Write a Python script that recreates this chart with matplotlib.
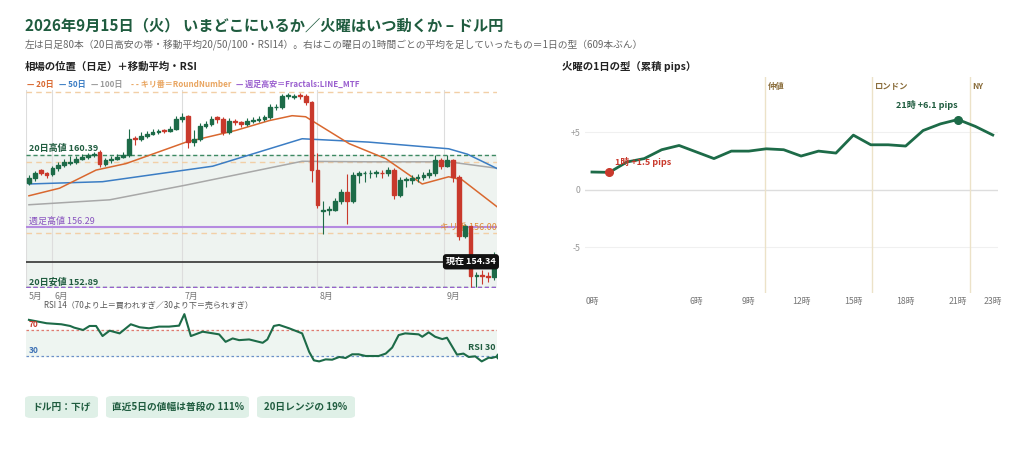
import matplotlib
matplotlib.use("Agg")
import matplotlib.pyplot as plt
from matplotlib.patches import FancyBboxPatch, Rectangle

plt.rcParams['font.family'] = ['Noto Sans CJK JP', 'DejaVu Sans']

closes = [159.08,159.36,159.40,159.27,159.64,159.83,160.02,160.02,160.20,160.30,
          160.39,160.48,159.92,160.11,160.20,160.30,160.39,161.33,161.33,161.51,
          161.61,161.74,161.76,161.76,161.89,162.45,162.54,161.14,161.33,162.08,
          162.17,162.45,162.45,161.70,162.36,162.26,162.17,162.36,162.39,162.45,
          162.54,163.11,163.11,163.76,163.76,163.76,163.76,163.39,159.55,157.58,
          157.30,157.30,157.77,158.33,157.77,159.27,159.36,159.36,159.40,159.40,
          159.36,159.55,158.14,158.99,158.99,159.08,159.17,159.27,159.36,160.11,
          159.77,160.11,159.17,155.80,156.36,153.55,153.55,153.55,153.46,154.34]
opens = [158.80,159.08,159.55,159.36,159.30,159.64,159.83,159.95,160.02,160.20,
         160.30,160.39,160.60,159.92,160.11,160.20,160.30,160.40,161.40,161.33,
         161.51,161.61,161.70,161.80,161.76,161.89,162.45,162.60,161.14,161.33,
         162.08,162.17,162.55,162.45,161.70,162.36,162.26,162.17,162.36,162.39,
         162.45,162.54,163.11,163.11,163.76,163.70,163.80,163.76,163.39,159.55,
         157.20,157.30,157.30,157.77,158.33,157.77,159.27,159.36,159.36,159.40,
         159.40,159.36,159.55,158.14,158.99,158.99,159.08,159.17,159.27,159.36,
         160.11,159.77,160.11,159.17,155.80,156.36,153.55,153.60,153.55,153.46]
highs = [159.25,159.50,159.60,159.45,159.80,160.00,160.20,160.35,160.35,160.45,
         160.50,160.60,160.70,160.25,160.35,160.45,160.55,161.90,161.50,161.70,
         161.75,161.90,161.90,161.90,162.05,162.60,162.80,162.70,161.80,162.25,
         162.35,162.60,162.65,162.55,162.50,162.45,162.35,162.50,162.55,162.60,
         162.70,163.30,163.30,163.90,163.95,163.90,163.95,163.85,163.45,160.50,
         157.80,157.50,157.95,158.50,159.30,159.45,159.50,159.50,159.55,159.55,
         159.55,159.70,159.65,159.15,159.15,159.25,159.30,159.45,159.60,160.39,
         160.25,160.39,160.20,159.25,156.50,156.40,153.75,153.90,153.75,154.90]
lows = [158.70,158.95,159.25,159.10,159.20,159.50,159.70,159.85,159.90,160.10,
        160.20,160.30,159.70,159.80,159.95,160.10,160.25,160.30,161.00,161.20,
        161.40,161.55,161.60,161.65,161.70,161.80,162.30,160.80,160.90,161.20,
        161.95,162.05,162.20,161.55,161.60,162.10,162.00,162.05,162.20,162.30,
        162.35,162.45,162.95,163.00,163.60,163.60,163.60,163.25,158.90,157.40,
        155.90,157.00,157.20,157.60,156.50,157.70,158.80,158.90,159.10,159.15,
        159.10,159.20,157.90,158.00,158.60,158.75,158.90,159.00,159.10,159.20,
        159.60,159.70,158.90,155.60,155.70,152.89,152.89,153.10,153.20,153.30]

ma20_x = [0,5.2,11.4,16.5,26.7,35.1,40.8,44.7,47.0,54.4,60.6,66.8,71.3,73.6,79.8]
ma20_y = [158.09,158.52,159.55,159.92,161.14,161.80,162.36,162.64,162.58,161.05,160.20,158.76,159.17,158.99,157.39]
ma50_x = [0,12.5,31.2,46.4,57.7,71.3,74.5,79.8]
ma50_y = [158.76,158.89,159.77,161.33,161.14,160.76,160.45,159.59]
ma100_x = [0,13.7,26.7,46.4,57.7,71.3,79.8]
ma100_y = [157.58,157.86,158.70,160.05,160.02,160.02,159.64]

month_idx = [-0.5, 3.9, 26, 49, 70.5]
month_lbl = ['5月', '6月', '7月', '8月', '9月']

rsi_x = [0,3,5.5,7,7.7,9.2,10.3,11.4,12.5,13.7,15.4,17.3,18.8,20.4,22.1,23.8,25.5,26.4,27.5,29.5,
         32.3,33.4,34.6,35.7,37.4,39.7,40.5,41.6,42.5,44.2,46.4,47.6,48.4,49.3,50.4,51.5,52.7,53.8,54.9,56,
         57.2,59.4,60.6,61.7,62.8,63.9,66.2,66.8,67.9,69,70.2,71,72.7,73.8,74.7,75.8,76.9,78.1,78.6,79.8]
rsi_y = [85.6,80.4,78.8,76.2,73.6,70,76.2,76.2,60.7,69,64.8,78.8,74.2,72.6,75.2,75.2,76.7,94.4,60.7,67.4,
         63.3,51.8,57,54.4,55.5,50.3,55.5,76.2,77.8,72.6,64.8,36.3,23.3,21.7,24.8,24.3,28.5,26.9,32.6,32.6,
         30,30,33.7,43,62.2,64.8,63.3,59.6,66.4,59.6,56,58.1,32.1,33.7,28.5,29.5,21.7,27.5,26.9,30]

hours = list(range(24))
pips = [1.53,1.5,2.4,2.7,3.47,3.84,3.27,2.7,3.35,3.35,3.55,3.47,2.92,3.35,3.18,4.74,3.9,3.9,3.79,5.14,5.72,6.1,5.5,4.75]
hour_ticks = [0,6,9,12,15,18,21,23]
sessions = [(9.95,'仲値'),(16.05,'ロンドン'),(21.7,'NY')]
badges = ['ドル円：下げ','直近5日の値幅は普段の 111%','20日レンジの 19%']

GREEN = '#1d6b48'; RED = '#c9392c'; DKG = '#1f5c3f'
fig = plt.figure(figsize=(10.24, 4.62), dpi=100)
fig.text(25/1024, 1-25/462, '2026年9月15日（火） いまどこにいるか／火曜はいつ動くか – ドル円',
         fontsize=11, fontweight='bold', color=DKG, va='center')
fig.text(25/1024, 1-45/462, '左は日足80本（20日高安の帯・移動平均20/50/100・RSI14）。右はこの曜日の1時間ごとの平均を足していったもの＝1日の型（609本ぶん）',
         fontsize=7.0, color='#666666', va='center')
fig.text(25/1024, 1-67/462, '相場の位置（日足）＋移動平均・RSI', fontsize=7.5, fontweight='bold', color='#222', va='center')
leg = [('— 20日','#d9682f'),('— 50日','#3b7dc4'),('— 100日','#9a9a9a'),('- - キリ番＝RoundNumber','#e9a560'),('— 週足高安＝Fractals:LINE_MTF','#9a5fcf')]
lx = [27, 59, 91, 131, 236]
for (t,c),x in zip(leg,lx):
    fig.text(x/1024, 1-84/462, t, fontsize=5.8, color=c, fontweight='bold', va='center')
fig.text(562/1024, 1-67/462, '火曜の1日の型（累積 pips）', fontsize=7.5, fontweight='bold', color='#222', va='center')

ax = fig.add_axes([26/1024, 1-288/462, 471/1024, 198/462])
ax.set_xlim(-0.5, 79.5); ax.set_ylim(152.85, 164.1)
ax.axhspan(152.89, 160.39, color='#eef3f0', zorder=0)
for m in month_idx:
    ax.axvline(m, color='#dddddd', lw=0.8, zorder=0.5)
for rn in [164.0, 160.0, 156.0]:
    ax.axhline(rn, color='#f2cfa6', lw=1, ls=(0,(4,3)), zorder=1)
ax.axhline(160.39, color='#3e8a63', lw=1, ls=(0,(3,2)), zorder=1)
ax.axhline(152.89, color='#3e8a63', lw=1, ls=(0,(3,2)), zorder=1)
ax.axhline(152.93, color='#9a5fcf', lw=1, ls=(0,(3,2)), zorder=1)
ax.axhline(156.29, color='#b58ae0', lw=1.5, zorder=1)
ax.axhline(154.34, color='#333333', lw=1.2, zorder=1)
ax.plot(ma100_x, ma100_y, color='#a8a8a8', lw=1.1, zorder=2)
ax.plot(ma50_x, ma50_y, color='#3b7dc4', lw=1.1, zorder=2)
ax.plot(ma20_x, ma20_y, color='#d9682f', lw=1.1, zorder=2)
for i,(o,h,l,c) in enumerate(zip(opens,highs,lows,closes)):
    col = GREEN if c >= o else RED
    ax.vlines(i, l, h, color=col, lw=0.8, zorder=3)
    ax.add_patch(Rectangle((i-0.32, min(o,c)), 0.64, max(abs(c-o),0.04), color=col, zorder=4))
ax.text(0, 160.5, '20日高値 160.39', fontsize=6.5, color=DKG, fontweight='bold', va='bottom')
ax.text(0, 156.4, '週足高値 156.29', fontsize=6.5, color='#8a55c0', va='bottom')
ax.text(0, 152.93, '20日安値 152.89', fontsize=6.5, color=DKG, fontweight='bold', va='bottom')
ax.text(79.5, 156.05, 'キリ番 156.00', fontsize=6.5, color='#e08a35', ha='right', va='bottom')
ax.text(79.3, 154.34, '現在 154.34', fontsize=6.5, color='white', fontweight='bold', ha='right', va='center',
        bbox=dict(boxstyle='round,pad=0.35', fc='#111111', ec='none'), zorder=6)
ax.set_xticks([])
for m,lab in zip(month_idx, month_lbl):
    ax.text(m+0.4, 152.85, lab, fontsize=6.3, color='#777', ha='left', va='top',
            transform=ax.transData)
ax.set_yticks([])
for s in ax.spines.values(): s.set_visible(False)
for t in ax.texts[-5:]:
    t.set_y(152.6)

fig.text(44/1024, 1-305/462, 'RSI 14（70より上＝買われすぎ／30より下＝売られすぎ）', fontsize=5.8, color='#555', va='center')
ar = fig.add_axes([26/1024, 1-369/462, 471/1024, 58.5/462])
ar.set_xlim(-0.5, 79.5); ar.set_ylim(10, 100)
ar.axhspan(30, 70, color='#eef5f1', zorder=0)
ar.axhline(70, color='#e07a70', lw=0.9, ls=(0,(2,2)))
ar.axhline(30, color='#6b8fc9', lw=0.9, ls=(0,(2,2)))
ar.plot(rsi_x, rsi_y, color=GREEN, lw=1.5)
ar.plot(rsi_x[-1], rsi_y[-1], 'o', color=GREEN, ms=4)
ar.text(79.3, 36, 'RSI 30', fontsize=6.5, color=DKG, fontweight='bold', ha='right', va='bottom')
ar.text(0, 71, '70', fontsize=6, color='#c9392c', fontweight='bold', va='bottom')
ar.text(0, 31, '30', fontsize=6, color='#3b6fb4', fontweight='bold', va='bottom')
ar.set_xticks([]); ar.set_yticks([])
for s in ar.spines.values(): s.set_visible(False)

bx = [(25,98),(106,249),(257,355)]
for (x0,x1),t in zip(bx,badges):
    fig.patches.append(FancyBboxPatch((x0/1024, 1-418/462), (x1-x0)/1024, 22/462,
                       boxstyle='round,pad=0,rounding_size=0.006', fc='#dff0e7', ec='none',
                       transform=fig.transFigure, figure=fig))
    fig.text((x0+x1)/2/1024, 1-407/462, t, fontsize=7, fontweight='bold', color=DKG, ha='center', va='center')

a2 = fig.add_axes([585/1024, 1-293/462, 413/1024, 216/462])
a2.set_xlim(-0.4, 23.3); a2.set_ylim(-9.0, 9.8)
for v in [-5, 5]:
    a2.axhline(v, color='#f0f0f0', lw=0.8, zorder=0)
a2.axhline(0, color='#dddddd', lw=1, zorder=0)
for h,lab in sessions:
    a2.axvline(h, color='#ece2c8', lw=1, zorder=0)
    a2.text(h+0.15, 9.0, lab, fontsize=6, color='#8a6d3b', fontweight='bold', va='center')
a2.plot(hours, pips, color=GREEN, lw=2)
a2.plot(1, pips[1], 'o', color=RED, ms=5.5)
a2.plot(21, pips[21], 'o', color=GREEN, ms=5.5)
a2.text(1.3, 2.1, '1時 +1.5 pips', fontsize=6.5, color=RED, fontweight='bold')
a2.text(21, 6.9, '21時 +6.1 pips', fontsize=6.5, color=DKG, fontweight='bold', ha='right', va='bottom')
a2.set_xticks(hour_ticks); a2.set_xticklabels([f'{h}時' for h in hour_ticks], fontsize=6.3, color='#777')
a2.set_yticks([-5,0,5]); a2.set_yticklabels(['-5','0','+5'], fontsize=6.3, color='#999')
a2.tick_params(length=0, pad=3)
for s in a2.spines.values(): s.set_visible(False)

fig.savefig('out.png', dpi=100)
